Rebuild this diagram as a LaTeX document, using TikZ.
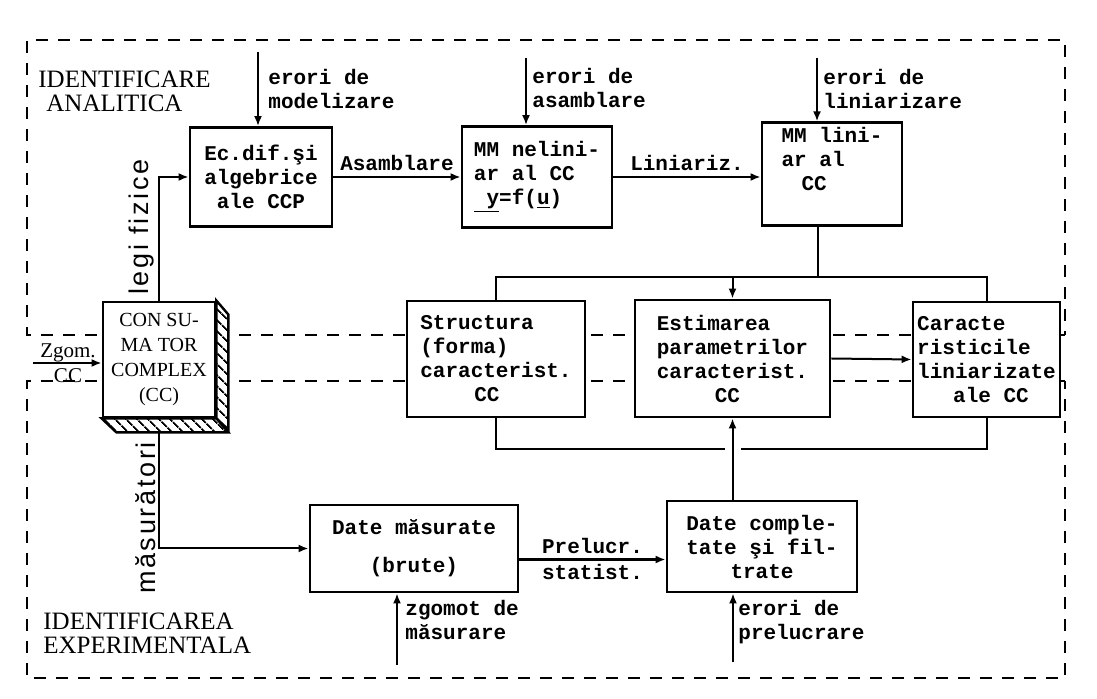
\documentclass[tikz,border=0pt]{standalone}
\usepackage{fontspec}
\setmainfont{Liberation Mono}
\newfontfamily\capsfont{Liberation Serif}
\newfontfamily\handfont[LetterSpace=10]{Liberation Sans}
\usetikzlibrary{arrows.meta, patterns.meta, backgrounds}

\begin{document}
\begin{tikzpicture}[x=0.5pt, y=-0.5pt,
    box/.style={draw, line width=1.4pt, fill=white, inner sep=2pt, align=left,
                font=\bfseries\fontsize{10.5}{12}\selectfont},
    lbl/.style={inner sep=0pt, align=left, font=\bfseries\fontsize{10.5}{12}\selectfont},
    rmtxt/.style={inner sep=0pt, align=left, font=\capsfont\fontsize{10.5}{12.5}\selectfont},
    title/.style={inner sep=0pt, align=left, font=\capsfont\fontsize{12.5}{12}\selectfont},
    hand/.style={inner sep=0pt, font=\handfont\fontsize{13.5}{15}\selectfont},
    arr/.style={-{Latex[length=5pt,width=4pt]}, line width=1pt},
    wire/.style={line width=1pt},
    frame/.style={line width=1.3pt, dash pattern=on 6pt off 5pt},
    hatch/.style={draw, line width=1.2pt, preaction={fill=white},
                  pattern={Lines[angle=-45,distance=4pt,line width=1pt]}}
  ]
  \useasboundingbox (0,0) rectangle (1097,699);

  % analytic identification
  \node[title, anchor=north west] (ianal) at (38,71) {IDENTIFICARE\\\hspace*{4pt}ANALITICA};
  \node[box, align=center, minimum width=71pt, minimum height=49.5pt] (ecdif) at (261,177)
        {Ec.dif.şi\\algebrice\\ale CCP};
  \node[box, minimum width=75pt, minimum height=50.5pt] (mmnel) at (537,177)
        {MM nelini-\\ar al CC\\\underline{\ y}=f(\underline{u})};
  \node[box, minimum width=70pt, minimum height=49pt] (mmlin) at (832,174)
        {MM lini-\\ar al\\\hspace*{10pt}CC\\\strut};

  \coordinate (inmod) at (258,52);
  \coordinate (inasm) at (526,58);
  \coordinate (inlin) at (817,58);
  \node[lbl, anchor=north west] (emod) at (268,69) {erori de\\modelizare};
  \node[lbl, anchor=north west] (easm) at (532,68) {erori de\\asamblare};
  \node[lbl, anchor=north west] (elin) at (823,69) {erori de\\liniarizare};
  \draw[arr] (inmod) -- (inmod |- ecdif.north);
  \draw[arr] (inasm) -- (inasm |- mmnel.north);
  \draw[arr] (inlin) -- (inlin |- mmlin.north);

  \draw[arr] (ecdif.east) -- (ecdif.east -| mmnel.west)
        node[lbl, midway, above=2.5pt] (lasm) {Asamblare};
  \draw[arr] (mmnel.east) -- (mmnel.east -| mmlin.west)
        node[lbl, midway, above=2.5pt] (llin) {Liniariz.};

  % complex consumer (3d block)
  \node[box, align=center, minimum width=56pt, minimum height=57.5pt,
        font=\capsfont\fontsize{10}{12.5}\selectfont] (cc) at (159,359.5)
        {CON SU-\\MA TOR\\COMPLEX\\(CC)};
  \draw[hatch] (cc.north east) -- ++(12,14) -- ++(0,115) -- (cc.south east) -- cycle;
  \draw[hatch] (cc.south west) -- (cc.south east) -- ++(12,14) -- ++(-112,0) -- cycle;

  \coordinate (inzgc) at (33,363);
  \node[rmtxt, anchor=base] (lzg) at (68,358) {Zgom.};
  \node[rmtxt, anchor=base] (lzgcc) at (68,383) {CC};
  \draw[arr] (inzgc) -- (inzgc -| cc.west);

  \draw[arr] (cc.north) |- (ecdif.west);
  \node[hand, rotate=90] (llegi) at (142,227) {legi fizice};

  % characteristics
  \node[box, minimum width=89pt, minimum height=58pt] (struct) at (496,359)
        {Structura\\(forma)\\caracterist.\\\hspace*{27pt}CC};
  \node[box, minimum width=97.5pt, minimum height=58.5pt] (estim) at (732.5,358.5)
        {Estimarea\\parametrilor\\caracterist.\\\hspace*{29pt}CC};
  \node[box, minimum width=73.5pt, minimum height=57.5pt] (caract) at (986.5,359.5)
        {Caracte\\risticile\\liniarizate\\\hspace*{18pt}ale CC};

  \path (estim.north) ++(0,-22) coordinate (bustop);
  \path (estim.south) ++(0,31) coordinate (busbot);
  \draw[wire] ([xshift=-7pt]mmlin.south) -- ([xshift=-7pt]mmlin.south |- bustop);
  \draw[wire] (struct.north) |- (bustop) -| (caract.north);
  \draw[arr] (bustop) -- (estim.north);
  \draw[arr] (estim.east) -- (caract.west);
  \draw[wire] (struct.south) |- ([xshift=-4pt]busbot);
  \draw[wire] (caract.south) |- ([xshift=4pt]busbot);

  % experimental identification
  \node[box, align=center, minimum width=104pt, minimum height=43.5pt] (datem) at (414,548.5)
        {Date măsurate\\[7pt](brute)};
  \node[box, align=center, minimum width=95pt, minimum height=45.5pt] (datec) at (762,546.5)
        {Date comple-\\tate şi fil-\\trate};

  \draw[arr] ([yshift=-7pt]cc.south) |- (datem.west);
  \node[hand, rotate=90] (lmas) at (146,518) {măsurători};

  \draw[arr] ([yshift=-5.5pt]datem.east) -- ([yshift=-5.5pt]datem.east -| datec.west)
        node[lbl, midway, above=2.5pt] (lpre) {Prelucr.}
        node[lbl, midway, below=2pt] (lsta) {statist.};
  \draw[arr] (datec.north -| estim.south) -- (estim.south);

  \coordinate (inzgm) at (397,665);
  \coordinate (inprl) at (733,662);
  \node[lbl, anchor=north west] (zgmas) at (405,600) {zgomot de\\măsurare};
  \node[lbl, anchor=north west] (eprel) at (738,600) {erori de\\prelucrare};
  \draw[arr] (inzgm) -- (inzgm |- datem.south);
  \draw[arr] (inprl) -- (inprl |- datec.south);

  \node[title, anchor=north west] (iexp) at (43,613) {IDENTIFICAREA\\EXPERIMENTALA};

  % dashed frames
  \begin{scope}[on background layer]
    \draw[frame] (1065,335) -- (27,335) -- (27,40) -- (1065,40) -- cycle;
    \draw[frame] (1065,381) -- (27,381) -- (27,678) -- (1065,678) -- cycle;
  \end{scope}
\end{tikzpicture}
\end{document}
